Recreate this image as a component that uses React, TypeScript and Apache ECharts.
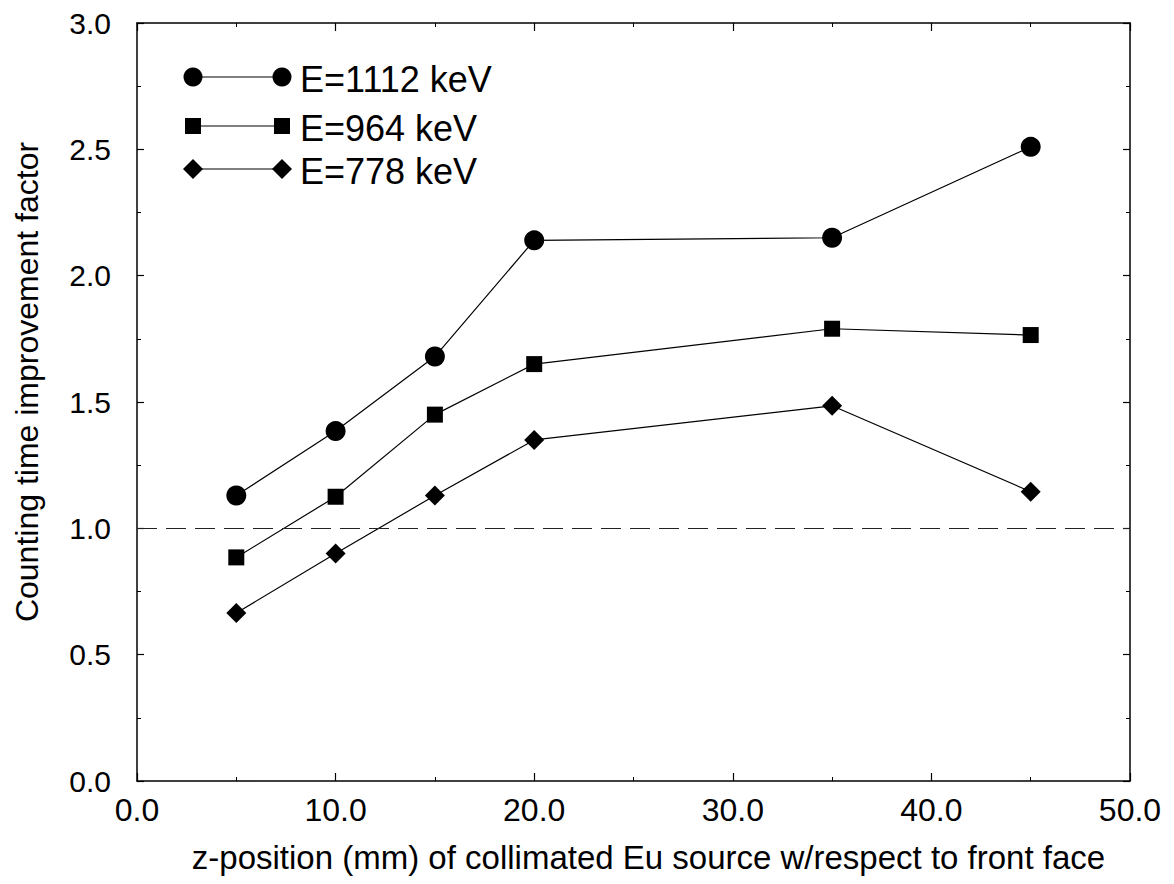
import React, { useEffect, useRef } from "react";
import * as echarts from "echarts";

const zPositions = [5, 10, 15, 20, 35, 45];
const e1112 = [1.13, 1.385, 1.68, 2.14, 2.15, 2.51];
const e964 = [0.885, 1.125, 1.45, 1.65, 1.79, 1.765];
const e778 = [0.665, 0.9, 1.13, 1.35, 1.485, 1.145];
const seriesNames = ["E=1112 keV", "E=964 keV", "E=778 keV"];
const referenceLevel = 1.0;
const xTitle = "z-position (mm) of collimated Eu source w/respect to front face";
const yTitle = "Counting time improvement factor";

const FONT = "'Liberation Sans', Arial, Helvetica, sans-serif";

export default function App() {
  const ref = useRef<HTMLDivElement>(null);
  useEffect(() => {
    if (!ref.current) return;
    const chart = echarts.init(ref.current, null, { renderer: "svg" });
    const toPairs = (vals: number[]) => zPositions.map((x, i) => [x, vals[i]]);
    const lineStyle = { color: "#000", width: 1.2 };
    const axisCommon = (position: string, showLabel: boolean, fontSize: number) => ({
      position,
      axisLine: { show: true, onZero: false, lineStyle: { color: "#000", width: 1.5 } },
      axisTick: { show: true, inside: true, length: 8, lineStyle: { color: "#000", width: 1.2 } },
      minorTick: { show: true, splitNumber: 2, length: 4, lineStyle: { color: "#000", width: 1 } },
      splitLine: { show: false },
      minorSplitLine: { show: false },
      axisLabel: {
        show: showLabel,
        fontSize,
        color: "#000",
        fontFamily: FONT,
        formatter: (v: number) => v.toFixed(1),
      },
    });
    const legendRows = [
      { y: 77, symbol: "circle" },
      { y: 126, symbol: "rect" },
      { y: 169, symbol: "diamond" },
    ];
    const x1 = 193;
    const x2 = 282;
    const els: any[] = [];
    const marker = (kind: string, cx: number, cy: number) => {
      if (kind === "circle") return { type: "circle", shape: { cx, cy, r: 9.5 }, style: { fill: "#000" } };
      if (kind === "rect") return { type: "rect", shape: { x: cx - 8, y: cy - 8, width: 16, height: 16 }, style: { fill: "#000" } };
      return {
        type: "polygon",
        shape: { points: [[cx, cy - 10], [cx + 10, cy], [cx, cy + 10], [cx - 10, cy]] },
        style: { fill: "#000" },
      };
    };
    legendRows.forEach((r, i) => {
      els.push({ type: "line", shape: { x1, y1: r.y, x2, y2: r.y }, style: { stroke: "#000", lineWidth: 1.2 } });
      els.push(marker(r.symbol, x1, r.y));
      els.push(marker(r.symbol, x2, r.y));
      els.push({
        type: "text",
        x: 300,
        y: r.y + 2,
        style: { text: seriesNames[i], fontSize: 36, fontFamily: FONT, fill: "#000", verticalAlign: "middle", align: "left" },
      });
    });
    els.push({
      type: "text",
      x: 27,
      y: 382,
      rotation: Math.PI / 2,
      style: { text: yTitle, fontSize: 32, fontFamily: FONT, fill: "#000", align: "center", verticalAlign: "middle" },
    });

    chart.setOption({
      animation: false,
      backgroundColor: "#fff",
      grid: { left: 137, right: 44, top: 23, bottom: 103, containLabel: false },
      xAxis: [
        {
          type: "value", min: 0, max: 50, interval: 10,
          ...axisCommon("bottom", true, 32),
          axisLabel: { ...axisCommon("bottom", true, 32).axisLabel, margin: 13 },
          name: xTitle,
          nameLocation: "middle",
          nameGap: 60,
          nameTextStyle: { fontSize: 33, color: "#000", fontFamily: FONT, padding: [0, 0, 0, 30] },
        },
        { type: "value", min: 0, max: 50, interval: 10, ...axisCommon("top", false, 32) },
      ],
      yAxis: [
        {
          type: "value", min: 0, max: 3, interval: 0.5,
          ...axisCommon("left", true, 30),
          axisTick: { show: true, inside: true, length: 7, lineStyle: { color: "#000", width: 1.2 } },
          axisLabel: { ...axisCommon("left", true, 30).axisLabel, margin: 26 },
        },
        {
          type: "value", min: 0, max: 3, interval: 0.5,
          ...axisCommon("right", false, 30),
          axisTick: { show: true, inside: true, length: 7, lineStyle: { color: "#000", width: 1.2 } },
        },
      ],
      series: [
        {
          name: seriesNames[0], type: "line", data: toPairs(e1112), symbol: "circle", symbolSize: 20,
          lineStyle, itemStyle: { color: "#000" },
          markLine: {
            silent: true, symbol: ["none", "none"], label: { show: false },
            lineStyle: { color: "#222", width: 1.2, type: [20, 9] },
            data: [{ yAxis: referenceLevel }],
          },
        },
        { name: seriesNames[1], type: "line", data: toPairs(e964), symbol: "rect", symbolSize: 16, lineStyle, itemStyle: { color: "#000" } },
        { name: seriesNames[2], type: "line", data: toPairs(e778), symbol: "diamond", symbolSize: 20, lineStyle, itemStyle: { color: "#000" } },
      ],
      graphic: els,
    });
    return () => chart.dispose();
  }, []);
  return <div ref={ref} style={{ position: "fixed", left: 0, top: 0, width: 1174, height: 884 }} />;
}
